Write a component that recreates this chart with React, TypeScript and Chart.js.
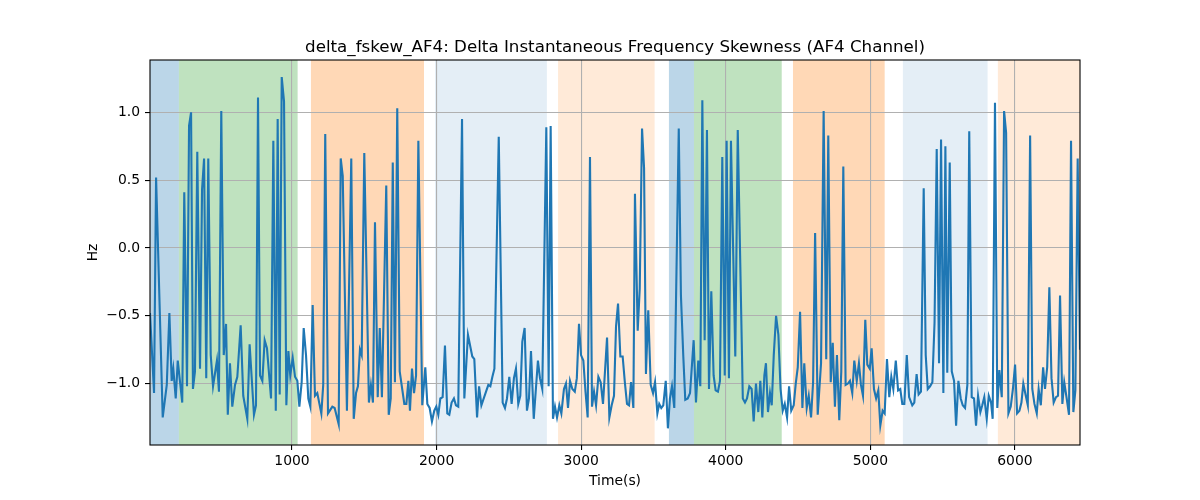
import { useEffect, useRef } from "react";
import { Chart, registerables } from "chart.js";

Chart.register(...registerables);

const chartTitle = "delta_fskew_AF4: Delta Instantaneous Frequency Skewness (AF4 Channel)";
const xLabel = "Time(s)";
const yLabel = "Hz";

const xTicks = [1000, 2000, 3000, 4000, 5000, 6000];
const yTicks = [-1.0, -0.5, 0.0, 0.5, 1.0];
const xMin = 18;
const xMax = 6450;
const yMin = -1.453;
const yMax = 1.386;

const spanStart = [18, 218, 1131, 1989, 2840, 3607, 3780, 4465, 5225, 5882];
const spanEnd = [218, 1039, 1913, 2763, 3508, 3780, 4387, 5099, 5811, 6450];
const spanColor = [
  "rgba(31,119,180,0.3)",
  "rgba(44,160,44,0.3)",
  "rgba(255,127,14,0.3)",
  "rgba(31,119,180,0.12)",
  "rgba(255,127,14,0.16)",
  "rgba(31,119,180,0.3)",
  "rgba(44,160,44,0.3)",
  "rgba(255,127,14,0.3)",
  "rgba(31,119,180,0.12)",
  "rgba(255,127,14,0.16)",
];

const timeA = [18,46,60,106,134,152,168,179,186,196,210,241,255,274,288,302,315,329,345,364,378,392,407,421,438,454,481,495,511,528,544,556,571];
const valA = [-0.48,-1.07,0.52,-1.25,-1.01,-0.48,-0.98,-0.89,-0.98,-1.11,-0.83,-1.14,0.41,-1.02,0.90,1.00,-1.04,-0.91,0.71,-0.89,0.43,0.66,-0.96,0.66,-0.79,-1.02,-0.83,-1.06,1.01,-0.79,-0.56,-1.23,-0.85];

const timeB = [587,606,622,645,663,691,707,737,751,765,779,795,811,827,855,871,888,901,915,929,945,961,975,988,1005,1021,1037,1051,1067,1081,1097,1113,1127,1143,1159];
const valB = [-1.17,-1.01,-0.95,-0.57,-1.09,-1.26,-0.71,-1.23,-1.16,1.11,-0.94,-0.98,-0.68,-0.74,-1.11,0.79,-1.20,0.95,-1.08,1.26,1.08,-1.16,-0.76,-0.94,-0.81,-0.95,-0.98,-1.17,-0.99,-0.59,-0.79,-1.11,-1.17,-0.42,-1.09];

const timeC = [1175,1203,1216,1230,1249,1279,1295,1323,1337,1351,1380,1410,1427,1443,1456,1470,1482,1500,1532,1546,1560,1574,1593,1607,1622,1652,1669,1683,1697,1712,1728];
const valC = [-1.07,-1.22,-1.01,0.84,-1.22,-1.17,-1.18,-1.30,0.66,0.53,-1.20,0.66,-1.26,-1.07,-1.02,-0.75,-0.79,0.70,-1.14,-1.01,-1.14,0.19,-1.10,-0.59,-1.10,0.46,-1.23,-1.11,0.63,-0.99,1.03];

const timeD = [1745,1777,1791,1805,1816,1830,1844,1858,1874,1901,1922,1936,1952,1968,1984,1998,2012,2026,2042,2058,2074,2088,2104,2120,2134,2150,2176,2192,2217,2247,2261,2280,2294,2310];
const valD = [-0.91,-1.15,-1.15,-0.98,-1.20,-0.89,-1.07,-0.94,0.79,-1.16,-0.88,-1.15,-1.18,-1.28,-1.20,-1.17,-1.23,-1.11,-1.10,-0.72,-1.22,-1.23,-1.14,-1.11,-1.16,-1.17,0.95,-1.11,-0.64,-0.80,-0.82,-1.25,-1.02,-1.16];

const timeE = [2342,2358,2372,2386,2400,2430,2457,2473,2487,2503,2519,2535,2549,2565,2579,2593,2609,2625,2639,2653,2672,2701,2715,2731,2759,2775,2789,2805,2819,2833,2849,2863,2881,2895,2909,2923];
const valE = [-1.06,-1.01,-1.02,-0.95,-0.89,0.82,-1.14,-1.18,-1.11,-0.95,-1.15,-0.96,-0.89,-1.15,-1.09,-0.69,-0.59,-1.20,-1.11,-0.76,-1.26,-0.83,-0.96,-1.04,0.89,-1.02,0.90,-1.26,-1.17,-1.25,-1.16,-1.22,-1.04,-1.00,-1.18,-0.98];

const timeF = [2939,2956,2970,2985,2999,3015,3030,3045,3061,3075,3089,3103,3119,3135,3151,3179,3195,3211,3227,3241,3255,3271,3287,3302,3317,3331,3345,3361,3372,3391,3405,3421,3435,3448,3464,3481,3497,3511];
const valF = [-1.04,-1.06,-0.96,-0.56,-0.79,-0.83,-1.06,-1.25,0.67,-1.17,-1.06,-1.16,-0.95,-0.99,-1.15,-0.66,-1.25,-1.16,-1.09,-0.58,-0.41,-0.80,-0.80,-0.99,-1.15,-1.16,-0.99,-1.18,0.40,-0.61,-0.30,0.88,0.59,-0.93,-0.46,-1.01,-1.07,-0.99];

const timeG = [3527,3540,3554,3568,3585,3600,3614,3628,3644,3675,3690,3706,3720,3737,3753,3778,3794,3810,3824,3838,3854,3870,3884,3900,3916,3930,3946,3960,3976,3993,4006,4022,4036,4066,4083,4118];
const valG = [-1.22,-1.15,-1.18,-1.16,-0.98,-1.33,-1.11,-1.02,-1.18,0.88,-0.35,-0.79,-1.12,-1.11,-1.07,-0.68,-1.14,-0.83,-1.02,1.09,-0.68,0.87,-1.04,-0.32,-0.94,-1.05,-1.06,-0.98,0.67,-0.94,0.79,-0.96,0.79,-0.80,0.87,-1.11];

const timeH = [4133,4147,4163,4179,4193,4209,4225,4239,4253,4267,4278,4292,4306,4318,4332,4348,4364,4379,4394,4408,4424,4438,4453,4470,4484,4498,4514,4530,4543,4560,4574,4590,4604,4618,4636,4659,4677];
const valH = [-1.14,-1.11,-1.02,-1.04,-1.28,-1.00,-1.21,-0.98,-1.25,-0.94,-0.85,-1.21,-1.07,-1.16,-0.79,-0.50,-0.64,-1.04,-1.20,-1.15,-1.25,-1.02,-1.20,-1.16,-1.00,-0.88,-0.47,-1.18,-0.85,-1.18,-1.09,-1.25,-0.99,0.11,-1.23,-0.85,1.01];

const timeI = [4695,4709,4726,4740,4755,4769,4785,4799,4813,4829,4845,4859,4875,4889,4906,4921,4935,4949,4965,4979,4996,5009,5025,5040,5055,5069,5085,5099,5115,5131,5145,5159,5176,5192,5207,5221,5235,5252,5268];
const valI = [-0.82,0.83,-0.99,-0.70,-1.17,-0.79,-1.27,-0.91,0.60,-1.01,-1.00,-0.98,-1.07,-0.83,-0.98,-0.85,-1.01,-1.09,-0.53,-0.86,-0.89,-0.74,-1.04,-1.11,-1.05,-1.31,-1.20,-1.22,-0.82,-1.10,-0.95,-1.04,-0.83,-1.05,-1.04,-1.15,-1.15,-0.79,-1.10];

const timeJ = [5290,5304,5320,5334,5350,5369,5383,5397,5413,5429,5444,5459,5475,5489,5505,5519,5532,5549,5563,5579,5593,5609,5625,5639,5655,5671,5684,5701,5717,5731,5745,5761,5774,5788,5805,5819,5835,5846];
const valJ = [-1.16,-1.14,-0.93,-1.08,-1.06,0.44,-0.79,-1.04,-1.02,-0.99,-0.55,0.73,-0.85,0.80,-1.07,0.75,-0.92,0.63,-0.91,-0.98,-1.31,-0.98,-1.11,-1.16,-1.18,-1.01,0.86,-1.10,-1.11,-1.31,-1.09,-1.21,-1.16,-1.10,-1.26,-1.09,-1.14,-1.26];

const timeK = [5862,5878,5892,5909,5925,5939,5955,5971,5986,6001,6015,6031,6045,6058,6075,6089,6105,6120,6135,6151,6164,6179,6195,6208,6223,6238,6253,6268,6284,6298,6312,6328,6341,6358,6374,6388,6404,6418,6434,6450];
const valK = [1.07,-1.18,-0.90,-1.10,1.01,0.85,-1.22,-1.17,-1.04,-0.86,-1.22,-1.20,-1.14,-1.00,-1.09,-1.16,0.83,-1.04,-1.15,-1.22,-1.04,-1.16,-0.88,-1.04,-0.88,-0.29,-0.96,-1.14,-1.10,-1.09,-0.35,-1.15,-0.99,-1.11,-1.23,0.79,-1.21,-1.05,0.66,-0.75];

const timeSec = [...timeA, ...timeB, ...timeC, ...timeD, ...timeE, ...timeF, ...timeG, ...timeH, ...timeI, ...timeJ, ...timeK];
const deltaFskew = [...valA, ...valB, ...valC, ...valD, ...valE, ...valF, ...valG, ...valH, ...valI, ...valJ, ...valK];

const FONT = "'DejaVu Sans', sans-serif";

const spansPlugin = {
  id: "spans",
  beforeDraw(chart: any) {
    const { ctx, chartArea, scales } = chart;
    const x = scales.x;
    ctx.save();
    ctx.beginPath();
    ctx.rect(chartArea.left, chartArea.top, chartArea.right - chartArea.left, chartArea.bottom - chartArea.top);
    ctx.clip();
    for (let i = 0; i < spanStart.length; i++) {
      const x0 = x.getPixelForValue(spanStart[i]);
      const x1 = x.getPixelForValue(spanEnd[i]);
      ctx.fillStyle = spanColor[i];
      ctx.fillRect(x0, chartArea.top, x1 - x0, chartArea.bottom - chartArea.top);
    }
    ctx.restore();
  },
  afterDraw(chart: any) {
    const { ctx, chartArea } = chart;
    ctx.save();
    ctx.strokeStyle = "#000";
    ctx.lineWidth = 1.1;
    ctx.strokeRect(chartArea.left, chartArea.top, chartArea.right - chartArea.left, chartArea.bottom - chartArea.top);
    ctx.fillStyle = "#000";
    ctx.font = `16.7px ${FONT}`;
    ctx.textAlign = "center";
    ctx.textBaseline = "alphabetic";
    ctx.fillText(chartTitle, (chartArea.left + chartArea.right) / 2, chartArea.top - 8);
    ctx.restore();
  },
};

export default function App() {
  const canvasRef = useRef<HTMLCanvasElement | null>(null);

  useEffect(() => {
    if (!canvasRef.current) return;
    const n = Math.min(timeSec.length, deltaFskew.length);
    const points = [];
    for (let i = 0; i < n; i++) points.push({ x: timeSec[i], y: deltaFskew[i] });

    const chart = new Chart(canvasRef.current, {
      type: "line",
      data: {
        datasets: [
          {
            data: points,
            borderColor: "#1f77b4",
            borderWidth: 2.1,
            pointRadius: 0,
            pointHoverRadius: 0,
            tension: 0,
            fill: false,
          },
        ],
      },
      options: {
        animation: false,
        responsive: false,
        devicePixelRatio: 1,
        layout: { padding: { left: 0, right: 120, top: 60, bottom: 0 } },
        plugins: {
          legend: { display: false },
          tooltip: { enabled: false },
          title: { display: false },
        },
        scales: {
          x: {
            type: "linear",
            min: xMin,
            max: xMax,
            afterBuildTicks: (scale: any) => {
              scale.ticks = xTicks.map((v) => ({ value: v }));
            },
            afterFit: (scale: any) => {
              scale.height = 55;
            },
            ticks: {
              color: "#000",
              font: { family: FONT, size: 13.9 },
              padding: 3,
              maxRotation: 0,
              autoSkip: false,
              callback: (v: any) => String(v),
            },
            grid: {
              color: "#b0b0b0",
              lineWidth: 1.1,
              tickColor: "#000",
              tickLength: 5,
              tickWidth: 1.1,
              drawTicks: true,
            },
            border: { display: false },
            title: {
              display: true,
              text: xLabel,
              color: "#000",
              font: { family: FONT, size: 13.9, lineHeight: 1.2 },
              padding: { top: 0, bottom: 10.6 },
            },
          },
          y: {
            type: "linear",
            min: yMin,
            max: yMax,
            afterBuildTicks: (scale: any) => {
              scale.ticks = yTicks.map((v) => ({ value: v }));
            },
            afterFit: (scale: any) => {
              scale.width = 150;
            },
            ticks: {
              color: "#000",
              font: { family: FONT, size: 13.9 },
              padding: 5,
              autoSkip: false,
              callback: (v: any) => Number(v).toFixed(1).replace("-", "\u2212"),
            },
            grid: {
              color: "#b0b0b0",
              lineWidth: 1.1,
              tickColor: "#000",
              tickLength: 5,
              tickWidth: 1.1,
              drawTicks: true,
            },
            border: { display: false },
            title: {
              display: true,
              text: yLabel,
              color: "#000",
              font: { family: FONT, size: 13.9, lineHeight: 1.2 },
              padding: { top: 84.6, bottom: 0 },
            },
          },
        },
      },
      plugins: [spansPlugin],
    } as any);

    return () => chart.destroy();
  }, []);

  return (
    <div style={{ position: "absolute", left: 0, top: 0, width: 1200, height: 500, background: "#fff" }}>
      <canvas ref={canvasRef} width={1200} height={500} style={{ width: 1200, height: 500, display: "block" }} />
    </div>
  );
}
